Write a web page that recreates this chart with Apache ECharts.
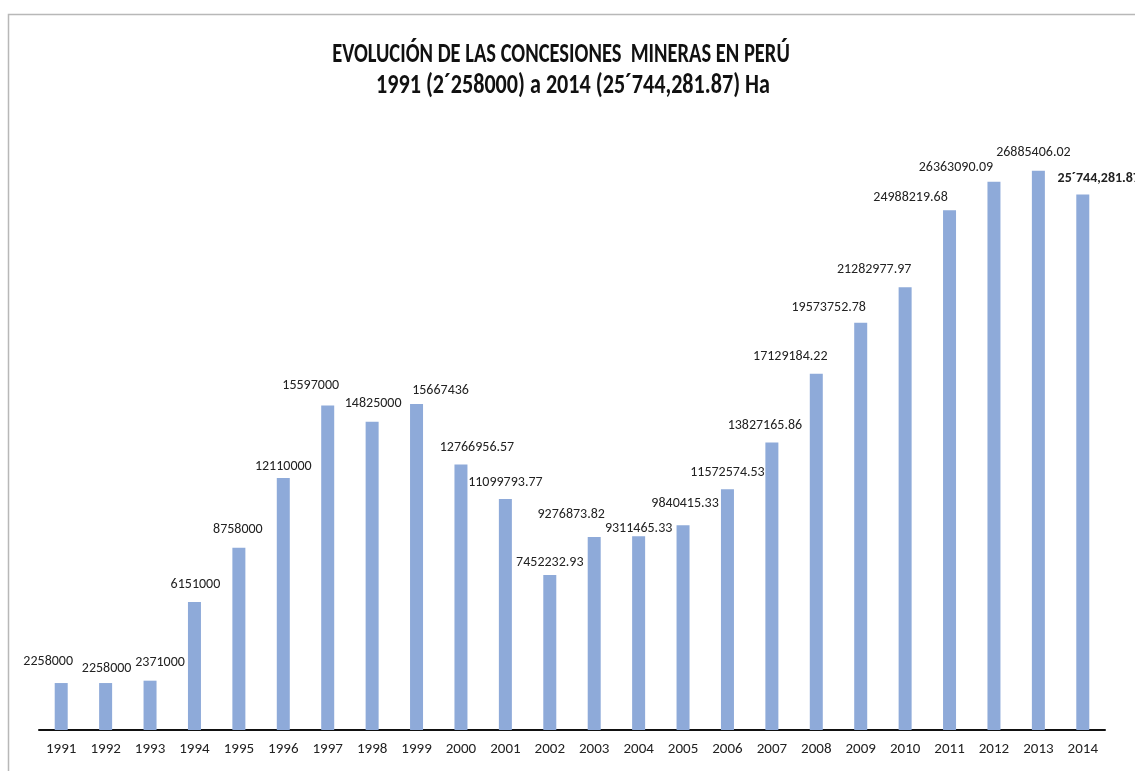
<!DOCTYPE html>
<html>
<head>
<meta charset="utf-8">
<script src="https://cdn.jsdelivr.net/npm/echarts@6/dist/echarts.min.js"></script>
<style>html,body{margin:0;padding:0;background:#fff;}#c{width:1135px;height:771px;}</style>
</head>
<body>
<div id="c"></div>
<script>
const years = ['1991','1992','1993','1994','1995','1996','1997','1998','1999','2000','2001','2002','2003','2004','2005','2006','2007','2008','2009','2010','2011','2012','2013','2014'];
const hectares = [2258000,2258000,2371000,6151000,8758000,12110000,15597000,14825000,15667436,12766956.57,11099793.77,7452232.93,9276873.82,9311465.33,9840415.33,11572574.53,13827165.86,17129184.22,19573752.78,21282977.97,24988219.68,26363090.09,26885406.02,25744281.87];
const valueLabels = ['2258000','2258000','2371000','6151000','8758000','12110000','15597000','14825000','15667436','12766956.57','11099793.77','7452232.93','9276873.82','9311465.33','9840415.33','11572574.53','13827165.86','17129184.22','19573752.78','21282977.97','24988219.68','26363090.09','26885406.02','25´744,281.87'];
const titleLines = ['EVOLUCIÓN DE LAS CONCESIONES  MINERAS EN PERÚ', '1991 (2´258000) a 2014 (25´744,281.87) Ha'];

// label nudges (style only)
const labelNudge = [[-13,-5],[1,2],[10,-1],[1,-1],[-1,-1],[0,5],[-17,-3],[1,-1],[24,3],[16,0],[0,0],[0,5],[-23,-6],[0,9],[2,-5],[0,0],[-7,0],[-26,0],[-32,2],[-31,-1],[-39,4],[-38,3],[-5,-1],[16,1]];

const font = "Carlito, 'Open Sans', 'Noto Sans', sans-serif";
const titleFont = "bold 20.5px Carlito, 'Open Sans', 'Noto Sans', sans-serif";
const chart = echarts.init(document.getElementById('c'), null, {renderer:'canvas'});
chart.setOption({
  backgroundColor:'#ffffff',
  animation:false,
  graphic:[
    {type:'rect', shape:{x:8.5,y:14.5,width:1300,height:900}, style:{fill:'none', stroke:'#b8b8b8', lineWidth:1.5}},
    {type:'text', x:561, y:55, scaleY:1.35, style:{text:titleLines[0], font:titleFont, fill:'#111', align:'center', verticalAlign:'middle'}},
    {type:'text', x:573, y:86, scaleX:1.08, scaleY:1.35, style:{text:titleLines[1], font:titleFont, fill:'#111', align:'center', verticalAlign:'middle'}}
  ],
  grid:{left:39, right:30, top:106, bottom:41},
  xAxis:{
    type:'category', data:years,
    axisLine:{lineStyle:{color:'#111', width:2}},
    axisTick:{show:false},
    axisLabel:{color:'#222', fontFamily:font, fontSize:15, margin:12}
  },
  yAxis:{type:'value', min:0, max:30000000, show:false, splitLine:{show:false}},
  series:[{
    type:'bar',
    barWidth:13,
    itemStyle:{color:'#8eaad9'},
    data: hectares.map((v,i)=>({
      value:v,
      label:{
        show:true, position:'top', distance:10,
        formatter: valueLabels[i],
        offset: labelNudge[i],
        fontFamily:font, fontSize:14, color:'#222',
        fontWeight: i===hectares.length-1 ? 'bold' : 'normal'
      }
    }))
  }]
});
</script>
</body>
</html>
